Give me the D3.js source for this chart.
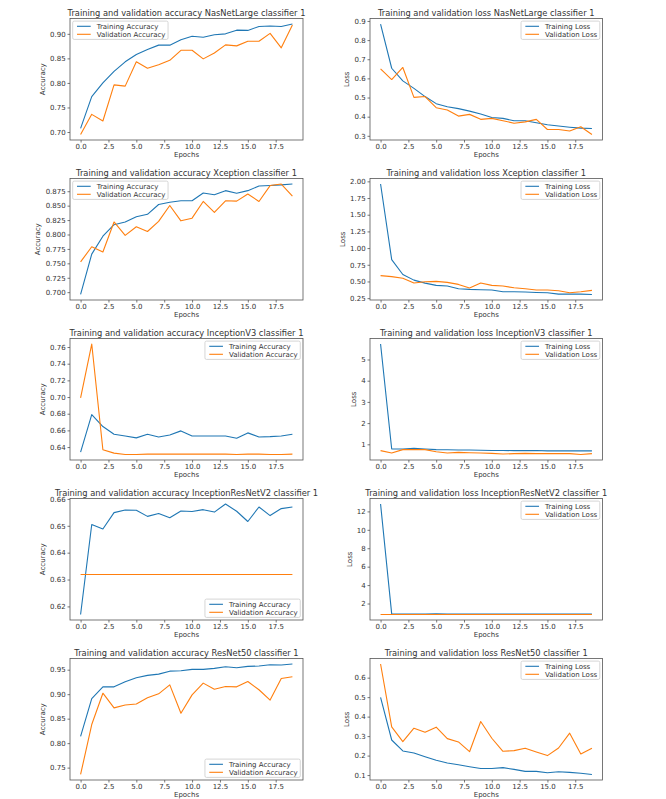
<!DOCTYPE html>
<html><head><meta charset="utf-8">
<script src="https://cdn.jsdelivr.net/npm/d3@7"></script>
<style>
body{margin:0;background:#fff}
text{font-family:"DejaVu Sans",sans-serif;fill:#333}
</style>
</head><body><svg id="c" width="666" height="799"></svg>
<script>
const epochs = [0,1,2,3,4,5,6,7,8,9,10,11,12,13,14,15,16,17,18,19];
const xTickValues = [0,2.5,5,7.5,10,12.5,15,17.5];

const nasAccTrain = [0.7075,0.772,0.800,0.8235,0.843,0.858,0.868,0.877,0.877,0.888,0.895,0.893,0.898,0.900,0.9075,0.907,0.915,0.916,0.915,0.920];
const nasAccVal   = [0.695,0.736,0.7225,0.796,0.7935,0.843,0.830,0.837,0.846,0.8665,0.8665,0.849,0.861,0.8775,0.8755,0.885,0.885,0.901,0.8715,0.918];
const nasLossTrain = [0.884,0.653,0.587,0.548,0.505,0.468,0.452,0.442,0.429,0.414,0.396,0.391,0.379,0.379,0.368,0.358,0.351,0.345,0.340,0.338];
const nasLossVal   = [0.650,0.594,0.657,0.501,0.505,0.447,0.435,0.403,0.412,0.386,0.391,0.379,0.366,0.373,0.386,0.333,0.333,0.325,0.347,0.307];

const xcAccTrain = [0.696,0.766,0.797,0.817,0.8216,0.8307,0.835,0.852,0.856,0.8585,0.8585,0.872,0.869,0.876,0.8716,0.876,0.884,0.885,0.886,0.8875];
const xcAccVal   = [0.7525,0.7787,0.7697,0.8217,0.7985,0.8134,0.8052,0.8227,0.8503,0.8237,0.8283,0.8573,0.8383,0.8584,0.8579,0.8703,0.8573,0.8848,0.8875,0.8665];
const xcLossTrain = [1.96,0.828,0.605,0.520,0.475,0.441,0.431,0.391,0.381,0.376,0.371,0.346,0.346,0.343,0.335,0.330,0.310,0.312,0.310,0.305];
const xcLossVal   = [0.587,0.572,0.547,0.476,0.496,0.501,0.486,0.456,0.401,0.476,0.441,0.431,0.406,0.391,0.371,0.371,0.361,0.330,0.346,0.366];

const iv3AccTrain = [0.634,0.679,0.6646,0.6554,0.6533,0.651,0.6554,0.652,0.6545,0.6594,0.6533,0.6533,0.6533,0.6533,0.6505,0.657,0.652,0.6525,0.6533,0.6554];
const iv3AccVal   = [0.699,0.7636,0.6368,0.6327,0.6311,0.6311,0.6315,0.6315,0.6315,0.6315,0.6315,0.6315,0.6315,0.6315,0.6311,0.6315,0.6315,0.6311,0.6311,0.6315];
const iv3LossTrain = [5.73,0.78,0.78,0.81,0.78,0.75,0.74,0.73,0.73,0.72,0.71,0.71,0.70,0.70,0.71,0.69,0.69,0.69,0.69,0.69];
const iv3LossVal   = [0.70,0.59,0.75,0.75,0.75,0.65,0.59,0.62,0.60,0.59,0.57,0.54,0.56,0.57,0.56,0.56,0.56,0.56,0.52,0.56];

const irAccTrain = [0.617,0.6505,0.6488,0.6549,0.6559,0.6558,0.6535,0.6546,0.653,0.6555,0.6553,0.656,0.6551,0.6581,0.6554,0.6516,0.657,0.6538,0.6564,0.657];
const irAccVal   = [0.6319,0.6319,0.6319,0.6319,0.6319,0.6319,0.6319,0.6319,0.6319,0.6319,0.6319,0.6319,0.6319,0.6319,0.6319,0.6319,0.6319,0.6319,0.6319,0.6319];
const irLossTrain = [12.8,0.87,0.86,0.86,0.86,0.88,0.86,0.85,0.85,0.85,0.85,0.85,0.85,0.85,0.85,0.85,0.85,0.85,0.85,0.85];
const irLossVal   = [0.81,0.81,0.81,0.81,0.81,0.81,0.81,0.81,0.81,0.81,0.81,0.81,0.81,0.81,0.81,0.81,0.81,0.81,0.81,0.81];

const rnAccTrain = [0.8137,0.891,0.915,0.915,0.9253,0.9336,0.9384,0.941,0.947,0.948,0.9507,0.9507,0.9527,0.956,0.954,0.9568,0.9575,0.960,0.9596,0.9616];
const rnAccVal   = [0.736,0.838,0.902,0.872,0.878,0.880,0.8925,0.9007,0.919,0.861,0.8986,0.9226,0.910,0.9158,0.915,0.926,0.909,0.888,0.932,0.9356];
const rnLossTrain = [0.499,0.280,0.2237,0.213,0.1945,0.1756,0.162,0.153,0.143,0.134,0.134,0.138,0.129,0.119,0.119,0.112,0.117,0.114,0.109,0.103];
const rnLossVal   = [0.670,0.347,0.272,0.3405,0.320,0.346,0.287,0.270,0.220,0.375,0.289,0.222,0.2254,0.2375,0.2186,0.200,0.239,0.315,0.208,0.2375];

const nasAccTicks = [0.70,0.75,0.80,0.85,0.90];
const nasLossTicks = [0.3,0.4,0.5,0.6,0.7,0.8,0.9];
const xcAccTicks = [0.700,0.725,0.750,0.775,0.800,0.825,0.850,0.875];
const xcLossTicks = [0.25,0.50,0.75,1.00,1.25,1.50,1.75,2.00];
const iv3AccTicks = [0.64,0.66,0.68,0.70,0.72,0.74,0.76];
const iv3LossTicks = [1,2,3,4,5];
const irAccTicks = [0.62,0.63,0.64,0.65,0.66];
const irLossTicks = [2,4,6,8,10,12];
const rnAccTicks = [0.75,0.80,0.85,0.90,0.95];
const rnLossTicks = [0.1,0.2,0.3,0.4,0.5,0.6];

const accNames = ["Training Accuracy","Validation Accuracy"];
const lossNames = ["Training Loss","Validation Loss"];

const panels = [
  {t:"Training and validation accuracy NasNetLarge classifier 1", yl:"Accuracy", tr:nasAccTrain, va:nasAccVal, names:accNames, ticks:nasAccTicks, fmt:".2f", leg:"ul", col:0, row:0},
  {t:"Training and validation loss NasNetLarge classifier 1", yl:"Loss", tr:nasLossTrain, va:nasLossVal, names:lossNames, ticks:nasLossTicks, fmt:".1f", leg:"ur", col:1, row:0},
  {t:"Training and validation accuracy Xception classifier 1", yl:"Accuracy", tr:xcAccTrain, va:xcAccVal, names:accNames, ticks:xcAccTicks, fmt:".3f", leg:"ul", col:0, row:1},
  {t:"Training and validation loss Xception classifier 1", yl:"Loss", tr:xcLossTrain, va:xcLossVal, names:lossNames, ticks:xcLossTicks, fmt:".2f", leg:"ur", col:1, row:1},
  {t:"Training and validation accuracy InceptionV3 classifier 1", yl:"Accuracy", tr:iv3AccTrain, va:iv3AccVal, names:accNames, ticks:iv3AccTicks, fmt:".2f", leg:"ur", col:0, row:2},
  {t:"Training and validation loss InceptionV3 classifier 1", yl:"Loss", tr:iv3LossTrain, va:iv3LossVal, names:lossNames, ticks:iv3LossTicks, fmt:"d", leg:"ur", col:1, row:2},
  {t:"Training and validation accuracy InceptionResNetV2 classifier 1", yl:"Accuracy", tr:irAccTrain, va:irAccVal, names:accNames, ticks:irAccTicks, fmt:".2f", leg:"lr", col:0, row:3},
  {t:"Training and validation loss InceptionResNetV2 classifier 1", yl:"Loss", tr:irLossTrain, va:irLossVal, names:lossNames, ticks:irLossTicks, fmt:"d", leg:"ur", col:1, row:3},
  {t:"Training and validation accuracy ResNet50 classifier 1", yl:"Accuracy", tr:rnAccTrain, va:rnAccVal, names:accNames, ticks:rnAccTicks, fmt:".2f", leg:"lr", col:0, row:4},
  {t:"Training and validation loss ResNet50 classifier 1", yl:"Loss", tr:rnLossTrain, va:rnLossVal, names:lossNames, ticks:rnLossTicks, fmt:".1f", leg:"ur", col:1, row:4}
];

const colX = [[70, 303], [370, 602.5]];
const rowTop = [18.5, 178.5, 338.5, 498.5, 658.5];
const H = 121.5;
const colors = ["#1f77b4", "#ff7f0e"];
const spine = "#555";
const FS = 7, TFS = 8.3;

const svg = d3.select("#c");

panels.forEach(p => {
  const x0 = colX[p.col][0], x1 = colX[p.col][1];
  const top = rowTop[p.row], bottom = top + H;
  const g = svg.append("g");
  const x = d3.scaleLinear().domain([-0.95, 19.95]).range([x0, x1]);
  const ext = d3.extent(p.tr.concat(p.va));
  const pad = (ext[1] - ext[0]) * 0.05;
  const y = d3.scaleLinear().domain([ext[0] - pad, ext[1] + pad]).range([bottom, top]);

  // x axis
  const xa = g.append("g").attr("transform", `translate(0,${bottom})`)
    .call(d3.axisBottom(x).tickValues(xTickValues).tickFormat(d3.format(".1f")).tickSize(2.5).tickPadding(1.8));
  xa.select(".domain").remove();
  xa.selectAll("line").attr("stroke", spine).attr("stroke-width", 0.8);
  xa.selectAll("text").attr("font-size", FS).style("fill", "#333").attr("font-family", "DejaVu Sans");

  // y axis
  const ya = g.append("g").attr("transform", `translate(${x0},0)`)
    .call(d3.axisLeft(y).tickValues(p.ticks).tickFormat(d3.format(p.fmt)).tickSize(2.5).tickPadding(1.8));
  ya.select(".domain").remove();
  ya.selectAll("line").attr("stroke", spine).attr("stroke-width", 0.8);
  ya.selectAll("text").attr("font-size", FS).style("fill", "#333").attr("font-family", "DejaVu Sans");
  let maxW = 0;
  ya.selectAll("text").each(function(){ maxW = Math.max(maxW, this.getComputedTextLength()); });

  // lines
  [p.tr, p.va].forEach((s, k) => {
    g.append("path").datum(s)
      .attr("fill", "none").attr("stroke", colors[k]).attr("stroke-width", 1.1)
      .attr("stroke-linejoin", "round")
      .attr("d", d3.line().x((d, i) => x(epochs[i])).y(d => y(d)));
  });

  // frame
  g.append("rect").attr("x", x0).attr("y", top).attr("width", x1 - x0).attr("height", H)
    .attr("fill", "none").attr("stroke", spine).attr("stroke-width", 0.8);

  // title
  g.append("text").attr("x", (x0 + x1) / 2).attr("y", top - 2.8).attr("text-anchor", "middle")
    .attr("font-size", TFS).text(p.t);
  // x label
  g.append("text").attr("x", (x0 + x1) / 2).attr("y", bottom + 16.5).attr("text-anchor", "middle")
    .attr("font-size", FS).text("Epochs");
  // y label
  const ylx = x0 - 2.5 - 1.8 - maxW - 5.2;
  g.append("text").attr("transform", `translate(${ylx},${(top + bottom) / 2}) rotate(-90)`)
    .attr("text-anchor", "middle").attr("font-size", FS).text(p.yl);

  // legend
  const lg = g.append("g");
  const txts = p.names.map((n, k) => lg.append("text").attr("font-size", FS).text(n));
  let tw = 0; txts.forEach(t => tw = Math.max(tw, t.node().getComputedTextLength()));
  const bw = 24 + tw + 2.6, bh = 18.3;
  let bx, by;
  if (p.leg === "ul") { bx = x0 + 2.7; by = top + 2.6; }
  else if (p.leg === "ur") { bx = x1 - 2.7 - bw; by = top + 2.6; }
  else { bx = x1 - 2.7 - bw; by = bottom - 2.6 - bh; }
  lg.insert("rect", "text").attr("x", bx).attr("y", by).attr("width", bw).attr("height", bh)
    .attr("rx", 1.5).attr("fill", "#fff").attr("fill-opacity", 0.8).attr("stroke", "#ccc").attr("stroke-width", 0.8);
  p.names.forEach((n, k) => {
    const cy = by + 5.2 + k * 8;
    lg.append("line").attr("x1", bx + 4.3).attr("x2", bx + 18).attr("y1", cy).attr("y2", cy)
      .attr("stroke", colors[k]).attr("stroke-width", 1.1);
    txts[k].attr("x", bx + 24).attr("y", cy + 2.5);
  });
});
</script>
</body></html>
